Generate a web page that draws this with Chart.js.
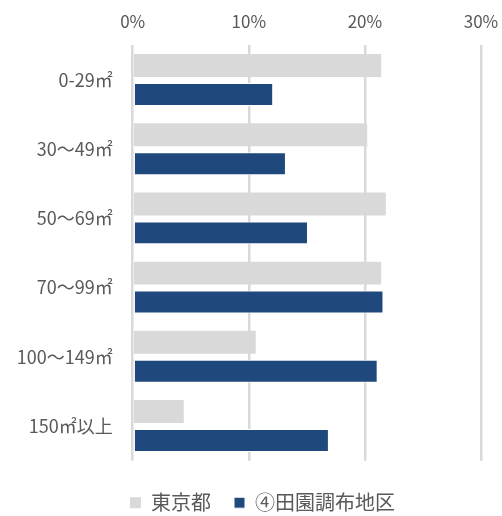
<!DOCTYPE html>
<html lang="ja">
<head>
<meta charset="utf-8">
<title>面積別構成比</title>
<script src="https://cdn.jsdelivr.net/npm/chart.js@4/dist/chart.umd.min.js"></script>
<style>
    html, body { margin: 0; padding: 0; background: #ffffff; }
    #wrap { width: 502px; height: 516px; }
</style>
</head>
<body>
<div id="wrap"><canvas id="chartArea" width="502" height="516"></canvas></div>
<script>
/* ===============================
   DATA
================================= */
const categorias = ['0-29㎡', '30〜49㎡', '50〜69㎡', '70〜99㎡', '100〜149㎡', '150㎡以上'];
const tokyoValores = [21.4, 20.2, 21.8, 21.4, 10.6, 4.4];
const denenValores = [12.1, 13.2, 15.1, 21.6, 21.1, 16.9];
const ticksX = [0, 10, 20, 30];

/* ===============================
   PALETA
================================= */
const cores = {
    cinza: '#d9d9d9',
    azul: '#1f497d',
    texto: '#595959',
    grid: '#d9d9d9'
};

const FONTE = '"Noto Sans CJK JP", "Noto Sans", sans-serif';

// a legenda do original fica mais baixa e um pouco deslocada para a direita
const legendaOffset = {
    id: 'legendaOffset',
    afterLayout(chart) {
        const lg = chart.legend;
        if (!lg) return;
        lg.top += 9;
        lg.bottom += 9;
        lg.left += 22;
        lg.right += 22;
    }
};

new Chart(document.getElementById('chartArea'), {
    type: 'bar',
    data: {
        labels: categorias,
        datasets: [
            {
                label: '東京都',
                data: tokyoValores,
                backgroundColor: cores.cinza,
                borderWidth: 0
            },
            {
                label: '④田園調布地区',
                data: denenValores,
                backgroundColor: cores.azul,
                borderColor: '#ffffff',
                borderWidth: 1,
                borderSkipped: false
            }
        ]
    },
    options: {
        indexAxis: 'y',
        responsive: false,
        animation: false,
        categoryPercentage: 0.837,
        barPercentage: 0.793,
        layout: { padding: { left: 0, right: 21, top: 0, bottom: 2.3 } },
        plugins: {
            tooltip: { enabled: false },
            legend: {
                position: 'bottom',
                labels: {
                    boxWidth: 11,
                    boxHeight: 11,
                    padding: 23,
                    color: cores.texto,
                    font: { family: FONTE, size: 20 }
                }
            }
        },
        scales: {
            x: {
                position: 'top',
                min: 0,
                max: 30,
                afterBuildTicks: (scale) => {
                    scale.ticks = ticksX.map(v => ({ value: v }));
                },
                afterFit: (scale) => {
                    scale.height = 45.3;
                    scale.paddingLeft = 0;
                    scale.paddingRight = 0;
                },
                border: { display: false },
                grid: {
                    color: cores.grid,
                    lineWidth: 2.5,
                    drawTicks: false
                },
                ticks: {
                    padding: 14,
                    color: cores.texto,
                    font: { family: FONTE, size: 17 },
                    callback: (v) => v + '%'
                }
            },
            y: {
                afterFit: (scale) => {
                    scale.width = 132.7;
                },
                border: { display: false },
                grid: { display: false, drawTicks: false },
                ticks: {
                    padding: 20,
                    color: cores.texto,
                    font: { family: FONTE, size: 18 }
                }
            }
        }
    },
    plugins: [legendaOffset]
});
</script>
</body>
</html>
